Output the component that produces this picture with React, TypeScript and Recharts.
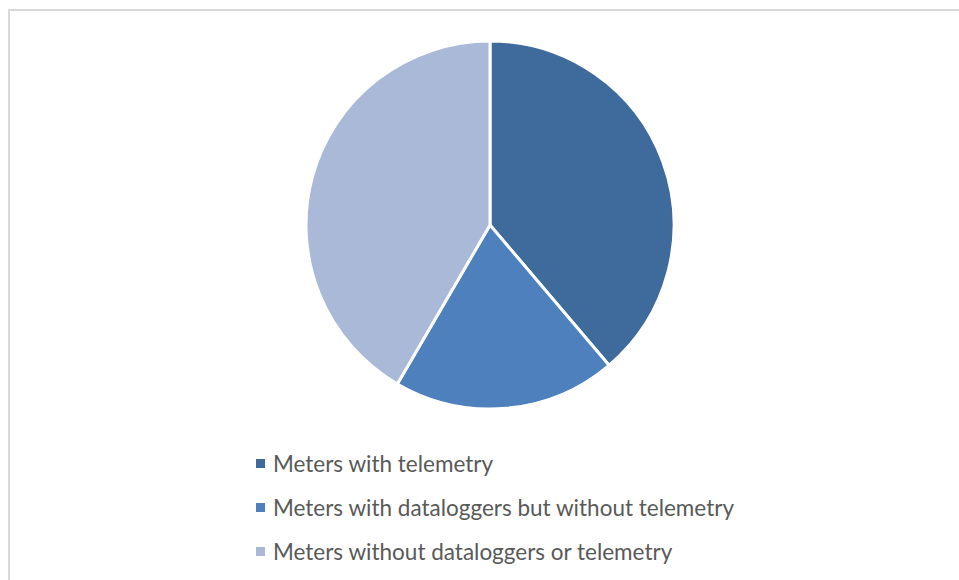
import { PieChart, Pie, Cell, Legend } from "recharts"

const categories = [
  "Meters with telemetry",
  "Meters with dataloggers but without telemetry",
  "Meters without dataloggers or telemetry",
]
const shares = [38.8, 19.6, 41.6]
const colors = ["#3F6A9C", "#4D80BC", "#AAB9D7"]

const data = categories.map((name, i) => ({ name, value: shares[i] }))

function LegendList() {
  return (
    <div>
      {categories.map((name, i) => (
        <div
          key={name}
          style={{ display: "flex", alignItems: "center", height: 44 }}
        >
          <span
            style={{
              width: 9,
              height: 9,
              background: colors[i],
              marginRight: 8,
              display: "inline-block",
            }}
          />
          <span style={{ color: "#595959", fontSize: 22.5, fontFamily: "Lato, sans-serif" }}>
            {name}
          </span>
        </div>
      ))}
    </div>
  )
}

export default function App() {
  return (
    <div style={{ position: "fixed", left: 0, top: 0, width: 959, height: 580, background: "#fff", overflow: "hidden" }}>
      <div
        style={{
          position: "absolute",
          left: 8,
          top: 9,
          width: 980,
          height: 600,
          border: "2px solid #D9D9D9",
        }}
      />
      <div style={{ position: "absolute", left: 0, top: 0 }}>
        <PieChart width={959} height={580} margin={{ top: 0, right: 0, bottom: 0, left: 0 }}>
          <Pie
            data={data}
            dataKey="value"
            nameKey="name"
            cx={490}
            cy={225}
            outerRadius={184}
            startAngle={90}
            endAngle={-270}
            stroke="#fff"
            strokeWidth={3}
            isAnimationActive={false}
          >
            {data.map((d, i) => (
              <Cell key={d.name} fill={colors[i]} />
            ))}
          </Pie>
          <Legend
            content={<LegendList />}
            wrapperStyle={{ position: "absolute", left: 256, top: 441, width: 600 }}
          />
        </PieChart>
      </div>
    </div>
  )
}
